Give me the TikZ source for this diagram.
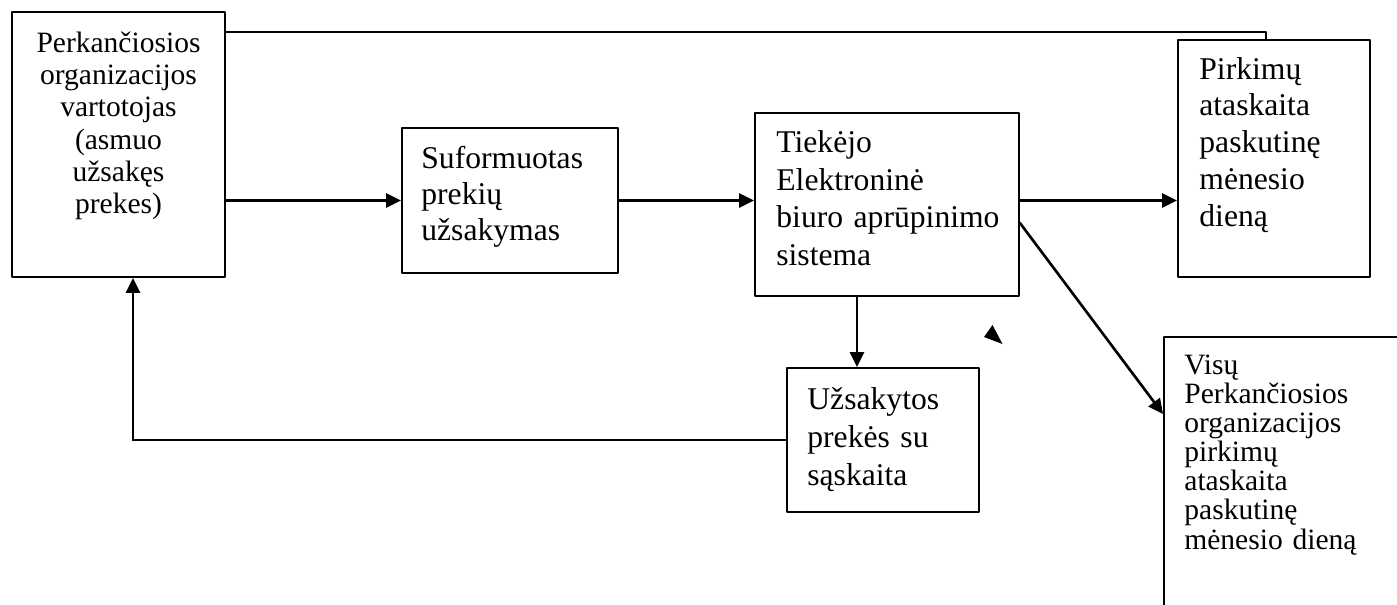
\documentclass[tikz,border=0pt]{standalone}
\usepackage{fontspec}
\setmainfont{Liberation Serif}
\usepackage{tikz}
\usetikzlibrary{arrows.meta}
\usetikzlibrary{positioning}

\begin{document}
\begin{tikzpicture}[line cap=round,line join=round,>={Triangle[length=8.5pt,width=8pt]},x=1.0cm,y=1.0cm,
  blok/.style={draw,line width=1.1pt,inner sep=0pt},
  tekstas/.style={font=\fontsize{18pt}{#1}\selectfont,text width=5.2cm,align=left,inner sep=0pt,anchor=base west},
  mazas/.style={font=\fontsize{16.8pt}{#1}\selectfont,text width=5.2cm,align=left,inner sep=0pt,anchor=base west},
  rodykle/.style={->,line width=1.5pt},
  linija/.style={line width=1pt}]
\useasboundingbox (0,0) rectangle (27.94,-12.08);
\clip (0,0) rectangle (27.94,-12.08);

\node[blok,minimum width=4.26cm,minimum height=5.30cm] (A) at (2.37,-2.89) {};
\node[blok,minimum width=4.32cm,minimum height=2.90cm] (B) at (10.2,-4.01) {};
\node[blok,minimum width=5.28cm,minimum height=3.66cm] (C) at (17.74,-4.09) {};
\node[blok,minimum width=3.84cm,minimum height=4.74cm] (D) at (25.48,-3.17) {};
\node[blok,minimum width=3.84cm,minimum height=2.88cm] (E) at (17.66,-8.80) {};
\node[blok,minimum width=5.52cm,minimum height=6.06cm] (F) at (26.04,-9.77) {};

\node[mazas=18.4pt,text width=4cm,align=center,anchor=base] (tA) at ([yshift=-0.82cm]A.north)
  {Perkančiosios\\organizacijos\\vartotojas\\(asmuo\\užsakęs\\prekes)};
\node[tekstas=20.5pt] (tB) at ([shift={(0.40,-0.82)}]B.north west) {Suformuotas\\prekių\\užsakymas};
\node[tekstas=21.6pt] (tC) at ([shift={(0.44,-0.80)}]C.north west) {Tiekėjo\\Elektroninė\\biuro aprūpinimo\\sistema};
\node[tekstas=21pt] (tD) at ([shift={(0.44,-0.80)}]D.north west) {Pirkimų\\ataskaita\\paskutinę\\mėnesio\\dieną};
\node[tekstas=21.8pt] (tE) at ([shift={(0.42,-0.84)}]E.north west) {Užsakytos\\prekės su\\sąskaita};
\node[mazas=16.6pt] (tF) at ([shift={(0.42,-0.76)}]F.north west) {Visų\\Perkančiosios\\organizacijos\\pirkimų\\ataskaita\\paskutinę\\mėnesio dieną};

\coordinate (virsus) at (25.32,-0.64);
\coordinate (apacia) at (2.66,-8.74);
\coordinate (zemyn) at (17.14,0);

\draw[rodykle] (B.west -| A.east) -- (B.west);
\draw[rodykle] (B.east) -- (B.east -| C.west);
\draw[rodykle] (B.east -| C.east) -- (B.east -| D.west);
\draw[rodykle] (C.south -| zemyn) -- (E.north -| zemyn);
\draw[rodykle] ([yshift=-0.37cm]C.east) -- ([yshift=-1.56cm]F.north west);
\draw[linija] (E.west) -- (E.west -| apacia);
\draw[rodykle] (E.west -| apacia) -- (apacia |- A.south);
\draw[linija] (virsus -| A.east) -- (virsus) -- (virsus |- D.north);

\fill (19.68,-6.74) -- (19.85,-6.50) -- (20.05,-6.88) -- cycle;
\end{tikzpicture}
\end{document}
